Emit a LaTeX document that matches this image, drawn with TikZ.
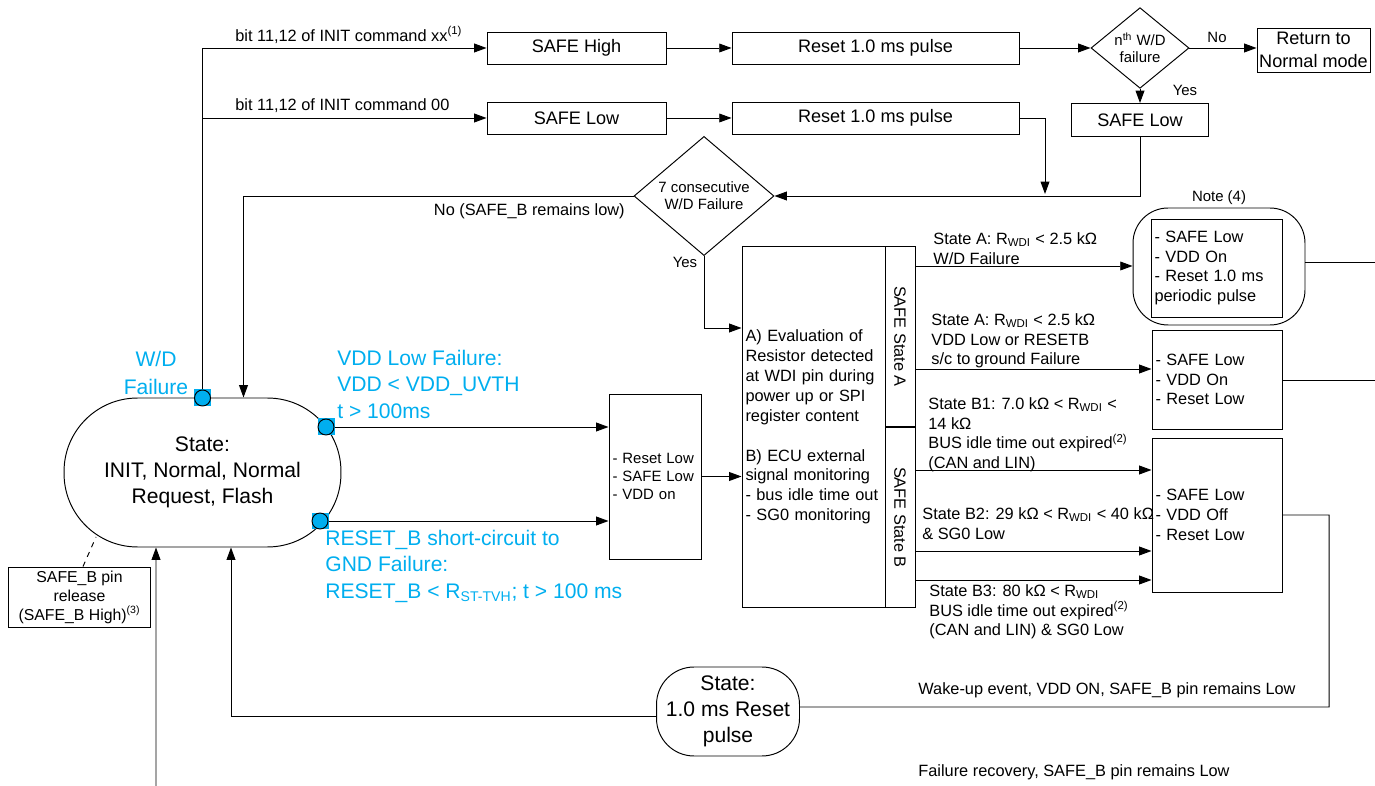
\documentclass[tikz,border=0pt]{standalone}
\usepackage{fontspec}
\setmainfont{Liberation Sans}
\usepackage{tikz}
\usetikzlibrary{shapes.geometric, arrows.meta, positioning, calc}
\definecolor{wdcyan}{HTML}{00AEEF}

\begin{document}
\begin{tikzpicture}[
  x=0.02cm, y=-0.02cm, >={Triangle[length=7pt,width=5pt]},
  conn/.style={line width=0.55pt},
  flow/.style={conn, ->},
  box/.style={draw, line width=0.55pt, inner sep=0pt, align=center, font=\fontsize{10.3}{12.6}\selectfont},
  listbox/.style={draw, line width=0.55pt, inner xsep=2pt, inner ysep=0pt, align=left, font=\fontsize{9.3}{11.3}\selectfont},
  choice/.style={draw, diamond, line width=0.55pt, inner sep=0pt, align=center, font=\fontsize{8.5}{9.6}\selectfont},
  statebox/.style={draw, line width=0.55pt, inner sep=0pt, align=center, font=\fontsize{12}{14.9}\selectfont},
  lbl/.style={inner sep=0pt, align=left, font=\fontsize{9.3}{11.3}\selectfont},
  smalllbl/.style={inner sep=0pt, align=center, font=\fontsize{8.5}{10}\selectfont},
  cyanlbl/.style={inner sep=0pt, text=wdcyan, font=\fontsize{12}{15}\selectfont},
  wdpin/.style={rectangle, fill=wdcyan, minimum size=0.34cm, inner sep=0pt, path picture={\draw[line width=0.55pt] (path picture bounding box.center) circle (0.16cm);}}
]
\useasboundingbox (0,0) rectangle (1375,786);

% top row: INIT command branches
\node[box, minimum width=3.58cm, minimum height=0.64cm] (safehigh) at (576.5,48) {SAFE High};
\node[box, minimum width=3.58cm, minimum height=0.64cm] (safelowa) at (576.5,118) {SAFE Low};
\node[box, minimum width=5.74cm, minimum height=0.64cm] (reseta) at (875.5,48) {Reset 1.0 ms pulse};
\node[box, minimum width=5.74cm, minimum height=0.64cm] (resetb) at (875.5,118) {Reset 1.0 ms pulse};
\node[choice, minimum width=1.96cm, minimum height=1.42cm] (nth) at (1140,48) {n\textsuperscript{th} W/D\\failure};
\node[box, minimum width=2.26cm, minimum height=0.88cm, font=\fontsize{10.3}{13}\selectfont] (retnormal) at (1313.5,50) {Return to\\Normal mode};
\node[box, minimum width=2.74cm, minimum height=0.66cm] (safelowb) at (1140,120) {SAFE Low};
\node[choice, minimum width=2.8cm, minimum height=1.96cm] (consec) at (704,196) {7 consecutive\\W/D Failure};

% states
\node[statebox, rounded corners=1.47cm, minimum width=5.54cm, minimum height=2.98cm] (main) at (202.5,472.5) {State:\\INIT, Normal, Normal\\Request, Flash};
\node[statebox, rounded corners=0.75cm, minimum width=2.86cm, minimum height=1.78cm] (resetst) at (728,711.5) {State:\\1.0 ms Reset\\pulse};
\node[box, minimum width=2.84cm, minimum height=1.2cm, font=\fontsize{9}{10.8}\selectfont] (safeb) at (79.5,597) {SAFE\_B pin\\release\\(SAFE\_B High)\textsuperscript{(3)}};

% evaluation block
\node[listbox, text width=1.70cm, minimum height=3.3cm, font=\fontsize{8.5}{10}\selectfont] (rstlow) at (655,476.5) {- Reset Low\\- SAFE Low\\- VDD on};
\node[listbox, text width=2.72cm, minimum height=7.24cm] (eval) at (813.5,427) {A) Evaluation of\\Resistor detected\\at WDI pin during\\power up or SPI\\register content\\[11.3pt]B) ECU external\\signal monitoring\\- bus idle time out\\- SG0 monitoring};
\node[draw, conn, minimum width=0.6cm, minimum height=3.62cm, inner sep=0pt] (sA) at (900,336.5) {};
\node[draw, conn, minimum width=0.6cm, minimum height=3.62cm, inner sep=0pt] (sB) at (900,517.5) {};
\node[lbl, rotate=-90] at (sA.center) {SAFE State A};
\node[lbl, rotate=-90] at (sB.center) {SAFE State B};

% result boxes
\node[draw, conn, rounded corners=0.7cm, minimum width=3.44cm, minimum height=2.34cm] (noteout) at (1219,266.5) {};
\node[listbox, text width=2.48cm, minimum height=1.96cm] (notein) at (1216.5,268) {- SAFE Low\\- VDD On\\- Reset 1.0 ms\\periodic pulse};
\node[smalllbl, above=0.06cm of noteout] {Note (4)};
\node[listbox, text width=2.46cm, minimum height=1.98cm] (vddon) at (1217,379.5) {- SAFE Low\\- VDD On\\- Reset Low};
\node[listbox, text width=2.46cm, minimum height=3.08cm] (vddoff) at (1217,515) {- SAFE Low\\- VDD Off\\- Reset Low};

% failure pins
\node[wdpin] (dwd) at (202.5,398) {};
\node[wdpin] (dvdd) at (326,427) {};
\node[wdpin] (drst) at (320,521) {};

% connectors
\draw[flow] (dwd) |- (safehigh.west);
\draw[flow] (dwd) |- (safelowa.west);
\draw[flow] (safehigh) -- (reseta);
\draw[flow] (safelowa) -- (resetb);
\draw[flow] (reseta) -- (nth);
\draw[flow] (nth) -- (retnormal.west |- nth.east);
\draw[flow] (nth) -- (safelowb);
\draw[flow] (safelowb.south) |- (consec.east);
\coordinate (mrg) at (1045,194);
\draw[flow] (resetb.east) -| (mrg);
\draw[flow] (consec.west) -| ([xshift=0.82cm]main.north);
\draw[flow] (consec.south) |- (eval.west |- 0,328);
\draw[flow] (dvdd) -- (rstlow.west |- dvdd);
\draw[flow] (drst) -- (rstlow.west |- drst);
\draw[flow] (rstlow) -- (eval.west |- rstlow.east);
\draw[flow] (sA.east |- 0,266) -- (noteout.west |- 0,266);
\draw[flow] (sA.east |- 0,369) -- (vddon.west |- 0,369);
\draw[flow] (sB.east |- 0,470) -- (vddoff.west |- 0,470);
\draw[flow] (sB.east |- 0,551) -- (vddoff.west |- 0,551);
\draw[flow] (sB.east |- 0,580) -- (vddoff.west |- 0,580);
\coordinate (outA) at (1375,262);
\coordinate (outB) at (1375,380);
\draw[conn] (noteout.east |- outA) -- (outA);
\draw[conn] (vddon.east |- outB) -- (outB);
\coordinate (rturn) at (1329,707);
\draw[conn] (vddoff.east) -| (rturn) -- ([yshift=0.09cm]resetst.east);
\draw[flow] ([yshift=-0.09cm]resetst.west) -| ([xshift=0.57cm]main.south);
\coordinate (bot) at (156,786);
\draw[flow] (bot) -- ([xshift=-0.93cm]main.south);
\coordinate (dsh) at (96,537);
\draw[conn, dashed] ([xshift=0.07cm]safeb.north) -- (dsh);

% labels
\node[lbl, anchor=west] at (235,35) {bit 11,12 of INIT command xx\textsuperscript{(1)}};
\node[lbl, anchor=west] at (235,106) {bit 11,12 of INIT command 00};
\node[lbl, anchor=east] at (625,211) {No (SAFE\_B remains low)};
\node[smalllbl] at (685,262) {Yes};
\node[smalllbl] at (1185,90) {Yes};
\node[smalllbl] at (1217,37) {No};
\node[lbl, anchor=north west] at (933,232) {State A: R\textsubscript{WDI} < 2.5 kΩ\\W/D Failure};
\node[lbl, anchor=north west] at (931,313) {State A: R\textsubscript{WDI} < 2.5 kΩ\\VDD Low or RESETB\\s/c to ground Failure};
\node[lbl, anchor=north west] at (928,397) {State B1: 7.0 kΩ < R\textsubscript{WDI} <\\14 kΩ\\BUS idle time out expired\textsuperscript{(2)}\\(CAN and LIN)};
\node[lbl, anchor=north west] at (922,507) {State B2: 29 kΩ < R\textsubscript{WDI} < 40 kΩ\\\& SG0 Low};
\node[lbl, anchor=north west] at (929,584) {State B3: 80 kΩ < R\textsubscript{WDI}\\BUS idle time out expired\textsuperscript{(2)}\\(CAN and LIN) \& SG0 Low};
\node[lbl, anchor=west] at (918,690) {Wake-up event, VDD ON, SAFE\_B pin remains Low};
\node[lbl, anchor=west] at (918,772) {Failure recovery, SAFE\_B pin remains Low};
\node[cyanlbl, align=center, font=\fontsize{12}{16}\selectfont] at (156,373) {W/D\\Failure};
\node[cyanlbl, align=left, anchor=north west] at (337,350) {VDD Low Failure:\\VDD < VDD\_UVTH\\t > 100ms};
\node[cyanlbl, align=left, anchor=north west] at (325,530) {RESET\_B short-circuit to\\GND Failure:\\RESET\_B < R\textsubscript{ST-TVH}; t > 100 ms};
\end{tikzpicture}
\end{document}
